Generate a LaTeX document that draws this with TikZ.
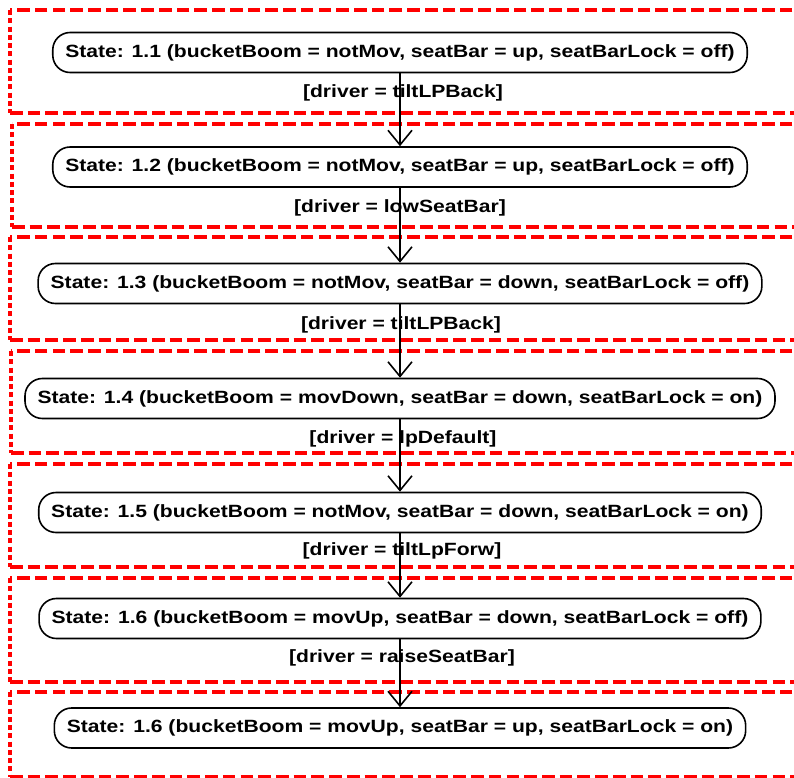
\documentclass[tikz,border=0pt]{standalone}
\usepackage{fontspec}
\setmainfont{Liberation Sans}[FakeStretch=1.19]
\usetikzlibrary{arrows.meta}
\begin{document}
\begin{tikzpicture}[x=0.75pt,y=-0.75pt,
  state/.style={draw=black,line width=1.2pt,rounded corners=13pt,fill=white,
    minimum height=30pt,inner xsep=9.4pt,inner ysep=0pt,
    font=\fontsize{13.3pt}{15pt}\selectfont\bfseries},
  guard/.style={inner sep=0pt,font=\fontsize{13.3pt}{15pt}\selectfont\bfseries},
  trans/.style={draw=black,line width=1.2pt,
    -{Straight Barb[length=11pt,width=18pt,line width=1.2pt]}},
  framehor/.style={draw=red,line width=2.3pt,dash pattern=on 9.5pt off 3.8pt},
  framever/.style={draw=red,line width=2.3pt,dash pattern=on 3.8pt off 2.4pt}]
\useasboundingbox (0,0) rectangle (794,778);
\clip (0,0) rectangle (794,778);

% dashed region frames, open to the right
\foreach \xl/\top/\bot in {10/10/113, 12/124/227, 10/237/340, 11/351/453,
                           10/464/567, 10/578/682, 10/692/777} {
  \draw[framehor] (810,\top) -- (\xl,\top);
  \draw[framever] (\xl,\top) -- (\xl,\bot);
  \draw[framehor] (\xl,\bot) -- (810,\bot);
}

% states
\node[state] (s1) at (400,52.5) {State: 1.1 (bucketBoom = notMov, seatBar = up, seatBarLock = off)};
\node[state] (s2) at (400,167)  {State: 1.2 (bucketBoom = notMov, seatBar = up, seatBarLock = off)};
\node[state] (s3) at (400,283.5){State: 1.3 (bucketBoom = notMov, seatBar = down, seatBarLock = off)};
\node[state] (s4) at (400,398.5){State: 1.4 (bucketBoom = movDown, seatBar = down, seatBarLock = on)};
\node[state] (s5) at (400,512.5){State: 1.5 (bucketBoom = notMov, seatBar = down, seatBarLock = on)};
\node[state] (s6) at (400,618.5){State: 1.6 (bucketBoom = movUp, seatBar = down, seatBarLock = off)};
\node[state] (s7) at (400,728)  {State: 1.6 (bucketBoom = movUp, seatBar = up, seatBarLock = on)};

% transitions
\draw[trans] (s1) -- (s2);
\draw[trans] (s2) -- (s3);
\draw[trans] (s3) -- (s4);
\draw[trans] (s4) -- (s5);
\draw[trans] (s5) -- (s6);
\draw[trans] (s6) -- (s7);

% guards
\node[guard] (g1) at (403,93)  {[driver = tiltLPBack]};
\node[guard] (g2) at (400,208) {[driver = lowSeatBar]};
\node[guard] (g3) at (401,325) {[driver = tiltLPBack]};
\node[guard] (g4) at (403,439) {[driver = lpDefault]};
\node[guard] (g5) at (402,551) {[driver = tiltLpForw]};
\node[guard] (g6) at (402,658) {[driver = raiseSeatBar]};
\end{tikzpicture}
\end{document}
